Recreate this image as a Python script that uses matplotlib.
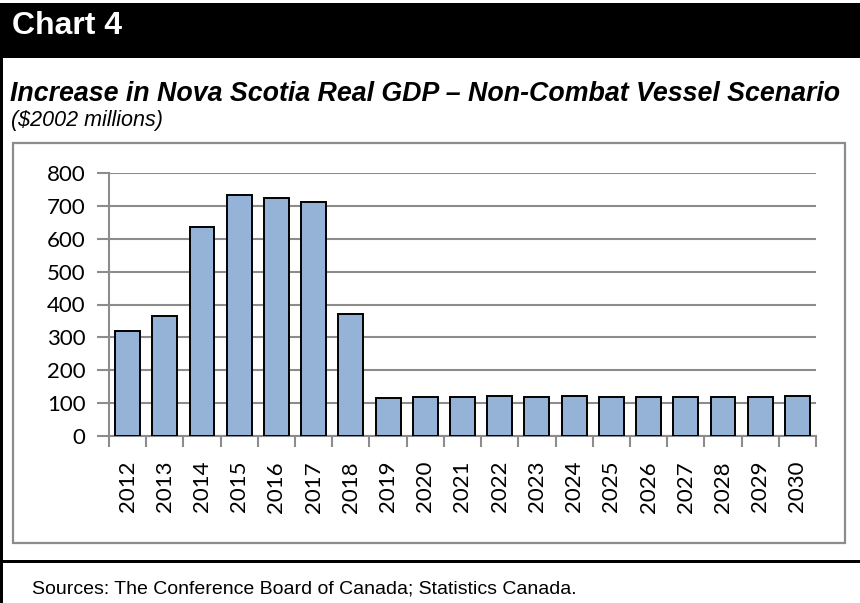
import matplotlib
matplotlib.use('Agg')
import numpy as np
import matplotlib.pyplot as plt
from matplotlib.patches import Rectangle

years = ['2012', '2013', '2014', '2015', '2016', '2017', '2018', '2019', '2020', '2021',
         '2022', '2023', '2024', '2025', '2026', '2027', '2028', '2029', '2030']
gdp_increase = [318, 364, 636, 733, 725, 713, 372, 116, 118, 119,
                121, 119, 122, 118, 119, 119, 120, 120, 123]
y_ticks = [0, 100, 200, 300, 400, 500, 600, 700, 800]

W, H = 860, 603
fig = plt.figure(figsize=(W / 100, H / 100), dpi=100)


def fx(px):
    return px / W


def fy(py):
    return 1 - py / H


# Frame pieces (in pixel coordinates of the original)
fig.patches.append(Rectangle((fx(0), fy(58)), fx(860), fy(3) - fy(58), transform=fig.transFigure,
                             facecolor='black', edgecolor='none', zorder=0))
fig.patches.append(Rectangle((fx(0), fy(603)), fx(3), fy(58) - fy(603), transform=fig.transFigure,
                             facecolor='black', edgecolor='none', zorder=0))
fig.patches.append(Rectangle((fx(0), fy(563)), fx(860), fy(560) - fy(563), transform=fig.transFigure,
                             facecolor='black', edgecolor='none', zorder=0))
fig.patches.append(Rectangle((fx(13), fy(543)), fx(845 - 13), fy(143) - fy(543), transform=fig.transFigure,
                             facecolor='none', edgecolor='#8c8c8c', linewidth=1.6, zorder=0))

fig.text(fx(12), fy(34), 'Chart 4', color='white', fontsize=23, fontweight='bold',
         family='Liberation Sans', va='baseline', ha='left')
fig.text(fx(10), fy(101), 'Increase in Nova Scotia Real GDP \u2013 Non-Combat Vessel Scenario',
         fontsize=19.3, fontweight='bold', style='italic', family='Liberation Sans', va='baseline', ha='left')
fig.text(fx(11), fy(126), '($2002 millions)', fontsize=15.5, style='italic',
         family='Liberation Sans', va='baseline', ha='left')
fig.text(fx(32), fy(593), 'Sources: The Conference Board of Canada; Statistics Canada.', fontsize=14,
         family='Liberation Sans', va='baseline', ha='left')

ax = fig.add_axes([fx(109), fy(436), fx(816 - 109), fy(173) - fy(436)])
x = np.arange(len(years))
ax.bar(x, gdp_increase, width=0.67, color='#95b3d7', edgecolor='black', linewidth=1.4, zorder=3)

ax.set_xlim(-0.5, len(years) - 0.5)
ax.set_ylim(0, 800)
ax.set_yticks(y_ticks)
ax.set_yticklabels([str(v) for v in y_ticks], family='Lato', fontsize=16)
ax.yaxis.grid(True, color='#8c8c8c', linewidth=1.5, zorder=0)
ax.tick_params(axis='y', length=9, width=1.5, color='#8c8c8c', pad=8)

ax.set_xticks(x)
ax.set_xticklabels(years, rotation=90, family='Lato', fontsize=16, va='top')
ax.set_xticks(np.arange(len(years) + 1) - 0.5, minor=True)
ax.tick_params(axis='x', which='major', length=0, pad=18)
ax.tick_params(axis='x', which='minor', length=8, width=1.5, color='#8c8c8c')

for side in ['top', 'right']:
    ax.spines[side].set_visible(False)
for side in ['left', 'bottom']:
    ax.spines[side].set_color('#8c8c8c')
    ax.spines[side].set_linewidth(1.5)
ax.set_facecolor('none')

fig.savefig('out.png', dpi=100)
